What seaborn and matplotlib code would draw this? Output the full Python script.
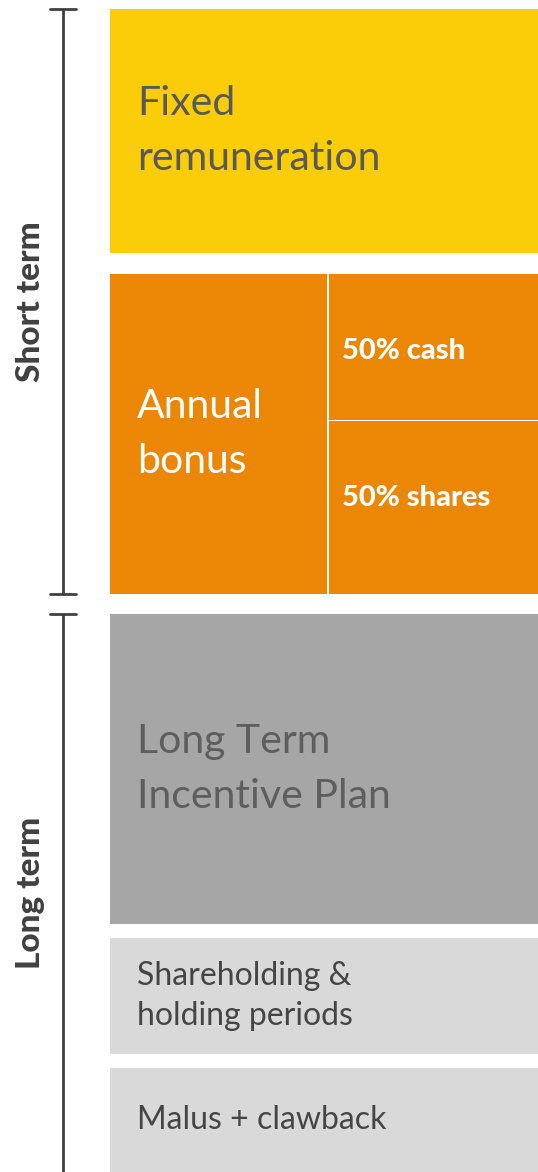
import matplotlib
matplotlib.use("Agg")
import matplotlib.pyplot as plt
import seaborn as sns

# ---- data ----
blocks = ["Fixed\nremuneration", "Annual\nbonus", "Long Term\nIncentive Plan",
          "Shareholding &\nholding periods", "Malus + clawback"]
block_heights = [244, 320, 310, 116, 104]
bonus_parts = ["50% cash", "50% shares"]
bonus_part_heights = [146, 174]
horizons = ["Short term", "Long term"]
horizon_blocks = [[0, 1], [2, 3, 4]]

# ---- styles / layout ----
sns.set_theme(style="white")
plt.rcParams['font.family'] = ['Lato', 'DejaVu Sans']

W, H = 538, 1172
top = 9
gaps = [21, 20, 14, 14]
x0, x1 = 110, 538
split_x = 327
block_colors = ["#FBCD08", "#EB8705", "#A6A6A6", "#D9D9D9", "#D9D9D9"]
text_colors = ["#595959", "#FFFFFF", "#5E5E5E", "#454545", "#454545"]
text_sizes = [29.5, 29.5, 29.5, 23, 23]
line_sp = [1.6, 1.6, 1.6, 1.4, 1.4]
bracket_color = "#404040"

fig = plt.figure(figsize=(W / 100, H / 100), dpi=100)
ax = fig.add_axes([0, 0, 1, 1])
ax.set_xlim(0, W)
ax.set_ylim(H, 0)
ax.axis("off")

# block positions
starts = []
y = top
for i, h in enumerate(block_heights):
    starts.append(y)
    y += h
    if i < len(gaps):
        y += gaps[i]

for i, (lab, h, s) in enumerate(zip(blocks, block_heights, starts)):
    if i == 1:
        ax.bar(x0, h, bottom=s, width=split_x - x0, align="edge",
               color=block_colors[i], linewidth=0)
        yy = s
        for j, (pl, ph) in enumerate(zip(bonus_parts, bonus_part_heights)):
            b0 = yy + (1 if j > 0 else 0)
            bh = ph - (1 if j > 0 else 0)
            ax.bar(split_x + 2, bh, bottom=b0, width=x1 - split_x - 2, align="edge",
                   color=block_colors[i], linewidth=0)
            ax.text(split_x + 15, b0 + bh / 2 + (4 if j == 0 else -9), pl, color="white",
                    fontsize=21, fontweight="black", va="center", ha="left")
            yy += ph
    else:
        ax.bar(x0, h, bottom=s, width=x1 - x0, align="edge",
               color=block_colors[i], linewidth=0)
    ax.text(x0 + 27, s + h / 2, lab, color=text_colors[i], fontsize=text_sizes[i],
            va="center", ha="left", linespacing=line_sp[i])

# brackets
bx = 63
cap = 13
for hz, idxs in zip(horizons, horizon_blocks):
    ya = starts[idxs[0]]
    yb = starts[idxs[-1]] + block_heights[idxs[-1]]
    ax.plot([bx, bx], [ya, yb], color=bracket_color, lw=2.0, solid_capstyle="butt")
    ax.plot([bx - cap, bx + cap], [ya, ya], color=bracket_color, lw=2.0)
    if yb < H - 2:
        ax.plot([bx - cap, bx + cap], [yb, yb], color=bracket_color, lw=2.0)
    ax.text(31, (ya + yb) / 2, hz, rotation=90, va="center", ha="center",
            fontsize=24, fontweight="black", color="#404040")

fig.savefig("out.png", dpi=100)
